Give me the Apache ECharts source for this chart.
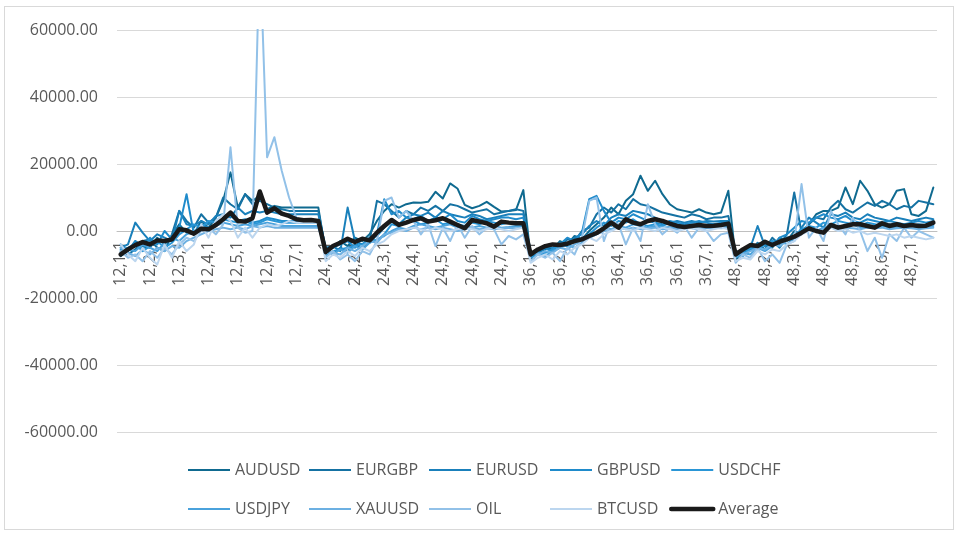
<!DOCTYPE html>
<html>
<head>
<meta charset="utf-8">
<title>Weekly returns by horizon</title>
<script src="https://cdn.jsdelivr.net/npm/echarts@6/dist/echarts.min.js"></script>
<style>
  html, body { margin: 0; padding: 0; background: #ffffff; }
  #frame { position: absolute; left: 4px; top: 6px; width: 950px; height: 524px; border: 1px solid #d9d9d9; box-sizing: border-box; }
  #chart { position: absolute; left: 0; top: 0; width: 959px; height: 535px; }
</style>
</head>
<body>
<div id="frame"></div>
<div id="chart"></div>
<script>
// Category levels: horizon, month, week
const periods = [12, 24, 36, 48];
const months = [1, 2, 3, 4, 5, 6, 7];
const weeks = [1, 2, 3, 4];

// Y axis tick range
const yMin = -60000;
const yMax = 60000;
const yStep = 20000;

const AUDUSD = [
  -7500,-6000,-3000,-4500,-5000,-2000,-4000,-1500,2000,-500, -1000,3000,1000,4000,9000,17500,7000,11000,9000,10500, 6500,7500,7000,7000,7000,7000,7000,7000,
  -6500,-5000,-3000,-4500,-2000,-3000,-1000,3000,6000,8000, 7000,8000,8500,8400,8700,11700,9700,14200,12700,7800, 6800,7500,8700,7200,5800,6000,6300,12200,
  -8000,-6500,-5000,-5500,-3000,-4000,-1500,-2500,0,2000, 4000,7000,5000,9000,11000,16500,12000,15000,11000,8000, 6500,6000,5500,6500,5500,5000,5500,12000,
  -8500,-6000,-4000,-5500,-3500,-5000,-2000,-3000,0,-1000, 2000,5000,6000,6000,7000,13000,8000,15000,12000,8000, 7000,8000,12000,12500,5000,4500,6000,13000
];
const EURGBP = [
  -6000,-7000,-5500,-3000,-2500,-5000,-6000,-1000,6000,3000, 1000,5000,2500,4000,10000,8000,6500,11000,8000,9000, 8000,7000,6500,6000,6000,6000,6000,6000,
  -5500,-7000,-5000,-6000,-4000,-5500,-3000,9000,8000,6000, 4000,6000,5000,7000,6000,7500,6000,8000,7500,6500, 5500,6000,6500,5000,5500,6000,6500,6000,
  -7500,-6000,-5500,-4000,-5000,-2500,-3000,0,1000,5000, 7000,5500,8000,6500,9500,8000,7500,6500,5500,5000, 4500,4000,5000,4500,3500,4000,4000,4500,
  -7000,-5500,-6000,-3500,-5500,-2000,-4000,-1000,11500,-500, 2000,4000,3500,7000,9000,6500,5500,7000,8500,7500, 9000,8000,6500,7500,7000,9000,8500,8000
];
const EURUSD = [
  -5000,-4000,2500,-500,-3000,-1000,-2000,-3000,6000,2000, 1500,3000,2000,4500,5000,4000,7000,5000,6000,5500, 6000,5500,5000,5000,5000,5000,5000,5000,
  -5000,-4500,-6000,7000,-3000,-4000,-2000,-1500,1000,3000, 2000,4000,5000,4500,5500,4000,6000,5000,4500,4000, 5000,4500,3500,4000,4500,5000,5000,5000,
  -6500,-7000,-5000,-6000,-3500,-4500,-2000,-1000,1500,3000, 1500,4000,5000,4500,6000,5500,5000,4000,3000,2500, 3000,2500,3000,2500,3000,2800,3000,3000,
  -6000,-6500,-5000,1500,-4500,-3000,-5000,-2000,-3000,1000, 4000,2500,1000,5000,4500,5500,4000,3500,5000,4000, 3500,3000,4000,3500,3000,3500,4000,3500
];
const GBPUSD = [
  -4000,-6000,-3000,-5500,-2000,-4000,0,-2500,1000,11000, -1000,2000,1000,2000,3000,4500,3000,3500,2500,3000, 4000,3500,3000,3000,3000,3000,3000,3000,
  -6000,-5000,-4000,-3000,-5000,-2000,-3500,-1000,9500,5000, 6000,4000,3500,4500,3000,4000,3500,5000,3000,2500, 4500,3500,3000,3500,4000,4000,3500,4000,
  -7000,-6000,-4500,-5000,-4000,-2000,-3000,-500,9500,10500, 6000,2500,4000,3500,5000,4000,3000,2500,2000,3000, 2500,2000,2500,3000,2500,2000,2500,2500,
  -7500,-6000,-5500,-4000,-3000,-4500,-2000,-1000,1000,3000, 2500,4000,5000,4000,3500,4500,3000,2500,3500,3000, 2500,3000,2500,2000,2500,3000,2500,3000
];
const USDCHF = [
  -5500,-5000,-4000,-6000,-4500,-3000,-5000,-3500,-1000,500, 2000,1000,3000,2500,3500,3000,2500,3000,2000,2500, 3500,3000,2500,2500,2500,2500,2500,2500,
  -7500,-6000,-5500,-5000,-4500,-4000,-2000,-3000,-1000,2000, 1500,2500,3000,2000,2500,3500,2000,2500,2000,1500, 2500,2000,3000,2500,2000,2500,2500,2000,
  -8000,-7000,-6500,-5500,-4000,-4500,-3000,-2000,-1000,1000, 2500,1500,3000,2500,3500,2000,1500,2000,1500,2500, 2000,1500,2000,2000,1500,2000,1500,2000,
  -7000,-7500,-5000,-5500,-4000,-3000,-3500,-2000,-1500,500, 1500,1000,2500,2000,3000,2500,2000,1500,2500,2000, 1500,2000,1500,2000,1500,2000,1800,2000
];
const USDJPY = [
  -6500,-5500,-6000,-4000,-5000,-6000,-3500,-2000,-3000,-1000, 0,1000,500,1500,2500,2000,1500,2000,1500,2000, 2500,2000,1500,1500,1500,1500,1500,1500,
  -6000,-7000,-5500,-6500,-4500,-5500,-3500,-2500,-1500,0, 1000,500,1500,2000,1500,1000,1500,2000,1000,1500, 1000,1500,1000,1500,1000,1200,1500,1500,
  -7000,-6500,-7500,-6000,-5000,-4000,-5000,-3500,-2000,-1000, 1000,500,1500,1000,2000,1500,1000,1500,1000,1200, 1000,1500,1000,1200,1000,1500,1200,1500,
  -8000,-6500,-7000,-5000,-6000,-4500,-3000,-4000,-2000,-500, 500,0,1000,1500,1000,1500,2000,1000,1500,1000, 1500,1000,1200,1000,1500,1000,1200,1500
];
const XAUUSD = [
  -5000,-6500,-7500,-5500,-7000,-5000,-6000,-4500,-5000,-3000, -2000,-1000,0,500,1000,500,1000,500,1500,1000, 1500,1000,1000,1000,1000,1000,1000,1000,
  -5500,-6500,-7000,-5000,-6000,-4500,-3000,-3500,-1000,-500, 500,0,1000,500,1000,500,1000,500,0,500, 1000,500,800,500,800,1000,800,1000,
  -6000,-7000,-6000,-6500,-5000,-5500,-4000,-3000,-2000,-1000, 0,500,1000,500,1000,500,800,1000,500,800, 500,1000,800,500,800,1000,800,1000,
  -6500,-7000,-6000,-5000,-5500,-4000,-4500,-3000,-1500,-500, 500,0,500,1000,500,1000,800,500,1000,800, 1000,500,800,1000,800,500,800,1000
];
const OIL = [
  -6000,-8000,-7000,-9000,-6000,-8000,-5000,-7000,-4000,-2000, -3000,0,1000,-1000,2000,25000,1000,-500,0,85000, 22000,28000,18000,10000,4000,3000,3000,3000,
  -8000,-6000,-8500,-7000,-9000,-6000,-7000,-3000,9000,10000, 4000,6000,3000,-1000,2000,-4500,1000,-3000,2000,-2000, 1500,-1000,1000,500,-4000,-1500,-2500,-1000,
  -9000,-7000,-8000,-6500,-9000,-5000,-7000,-2000,9000,10000, -3000,3000,2000,-4000,1000,-3000,8000,2000,-1000,1000, -500,1500,-2000,1000,0,-3000,-1000,-500,
  -9500,-7000,-8000,-5000,-9000,-7000,-9500,-4000,-3000,14000, -2000,1000,-3000,6000,2000,-1000,4000,0,-6000,-2000, -8000,-1000,-3000,1000,-2000,0,-1000,-2000
];
const BTCUSD = [
  -4000,-7000,-9000,-5000,-8000,-10000,-4000,-8000,-3000,-6000, -4000,2000,-2000,3000,5000,3000,-2000,1000,-2000,1000, 2000,1500,2000,3000,2500,2500,2500,2500,
  -9000,-7000,-8000,-6000,-7500,-5000,-6000,-4000,-3000,-1000, 0,500,1000,500,0,1000,500,0,500,1000, 500,0,500,1000,500,0,500,1000,
  -9500,-8000,-7000,-8500,-6000,-7000,-5000,-4000,-2000,-3000, -1000,0,1000,500,0,1000,500,0,1000,500, 0,500,1000,500,0,500,1000,500,
  -9000,-8000,-8500,-6000,-7000,-5500,-6000,-4000,-3000,-1000, 0,500,-1000,1000,0,500,-500,0,-1000,-500, -1000,-1500,-1000,-2000,-1500,-2000,-2500,-2000
];
const Average = [
  -7000,-5500,-4200,-3300,-4000,-2800,-3000,-2500,500,200, -800,700,500,1800,3500,5500,3000,2800,3800,11800, 5500,6800,5200,4500,3500,3200,3300,3000,
  -6300,-4500,-3500,-2300,-3300,-2300,-2800,-500,1500,3300, 1800,2500,3300,3800,2800,3200,3800,2800,1800,800, 3300,2800,2300,1300,2800,2500,2300,2300,
  -7000,-5500,-4500,-4000,-4200,-3800,-3000,-2500,-1500,-600, 800,2500,1000,3500,2500,2000,3000,3500,3000,2200, 1500,1200,1500,1800,1500,1600,1800,2200,
  -7000,-5500,-4200,-4500,-3200,-4200,-3200,-2500,-1700,-500, 800,0,-500,1800,1000,1500,2000,2000,1500,1000, 2300,1500,2000,1500,1800,1500,1600,2500
];

const seriesNames = ['AUDUSD', 'EURGBP', 'EURUSD', 'GBPUSD', 'USDCHF', 'USDJPY', 'XAUUSD', 'OIL', 'BTCUSD', 'Average'];
const seriesValues = [AUDUSD, EURGBP, EURUSD, GBPUSD, USDCHF, USDJPY, XAUUSD, OIL, BTCUSD, Average];

const categories = [];
periods.forEach(function (p) {
  months.forEach(function (m) {
    weeks.forEach(function (w) { categories.push(p + ',' + m + ',' + w); });
  });
});

const palette = ['#0f6a90', '#1572a3', '#1a80bb', '#1f8bcb', '#2a96d6', '#4aa2dc', '#6cb0e2', '#92c1e8', '#bcd6ef', '#1a1a1a'];
const FONT = '"Open Sans", "DejaVu Sans", sans-serif';
const textGrey = '#595959';
const thinWidth = 2;
const avgWidth = 4.5;

// Plot box
const gridTop = 30;
const gridBottom = 103;
const chartHeight = 535;
const plotHeight = chartHeight - gridTop - gridBottom;
// Category axis sits on the zero line, so shift it up from the bottom edge
const zeroOffset = -plotHeight * (0 - yMin) / (yMax - yMin);

const chart = echarts.init(document.getElementById('chart'), null, { renderer: 'canvas' });

const series = seriesNames.map(function (name, i) {
  const isAvg = name === 'Average';
  return {
    name: name,
    type: 'line',
    data: seriesValues[i],
    symbol: 'none',
    clip: true,
    color: palette[i],
    lineStyle: { width: isAvg ? avgWidth : thinWidth, color: palette[i], cap: 'round', join: 'round' },
    emphasis: { disabled: true },
    z: isAvg ? 5 : 3
  };
});

// Legend laid out as five columns of two rows
const legendColumns = [
  { items: ['AUDUSD', 'USDJPY'], left: 187 },
  { items: ['EURGBP', 'XAUUSD'], left: 308 },
  { items: ['EURUSD', 'OIL'], left: 428 },
  { items: ['GBPUSD', 'BTCUSD'], left: 549 },
  { items: ['USDCHF', 'Average'], left: 669 }
];

chart.setOption({
  animation: false,
  backgroundColor: 'transparent',
  textStyle: { fontFamily: FONT },
  grid: { left: 117, right: 22, top: gridTop, bottom: gridBottom, containLabel: false },
  legend: legendColumns.map(function (c) {
    return {
      data: c.items.map(function (n) {
        const isAvg = n === 'Average';
        return {
          name: n,
          lineStyle: { width: isAvg ? avgWidth : thinWidth, cap: isAvg ? 'round' : 'butt' }
        };
      }),
      orient: 'vertical',
      left: c.left,
      top: 460,
      padding: 0,
      itemGap: 19,
      itemWidth: 42,
      itemHeight: 14,
      selectedMode: false,
      itemStyle: { opacity: 0 },
      textStyle: { color: textGrey, fontSize: 16, lineHeight: 20, fontFamily: FONT }
    };
  }),
  xAxis: {
    type: 'category',
    data: categories,
    boundaryGap: true,
    position: 'bottom',
    offset: zeroOffset,
    axisLine: { onZero: false, lineStyle: { color: '#bfbfbf', width: 1 } },
    axisTick: { show: false },
    axisLabel: {
      interval: 3,
      rotate: 90,
      margin: 10,
      color: textGrey,
      fontSize: 16,
      fontFamily: FONT
    },
    splitLine: { show: false }
  },
  yAxis: {
    type: 'value',
    min: yMin,
    max: yMax,
    interval: yStep,
    axisLine: { show: false },
    axisTick: { show: false },
    axisLabel: {
      margin: 19,
      color: textGrey,
      fontSize: 16,
      fontFamily: FONT,
      formatter: function (v) { return v.toFixed(2); }
    },
    splitLine: { lineStyle: { color: '#d9d9d9', width: 1 } }
  },
  series: series
});
</script>
</body>
</html>
